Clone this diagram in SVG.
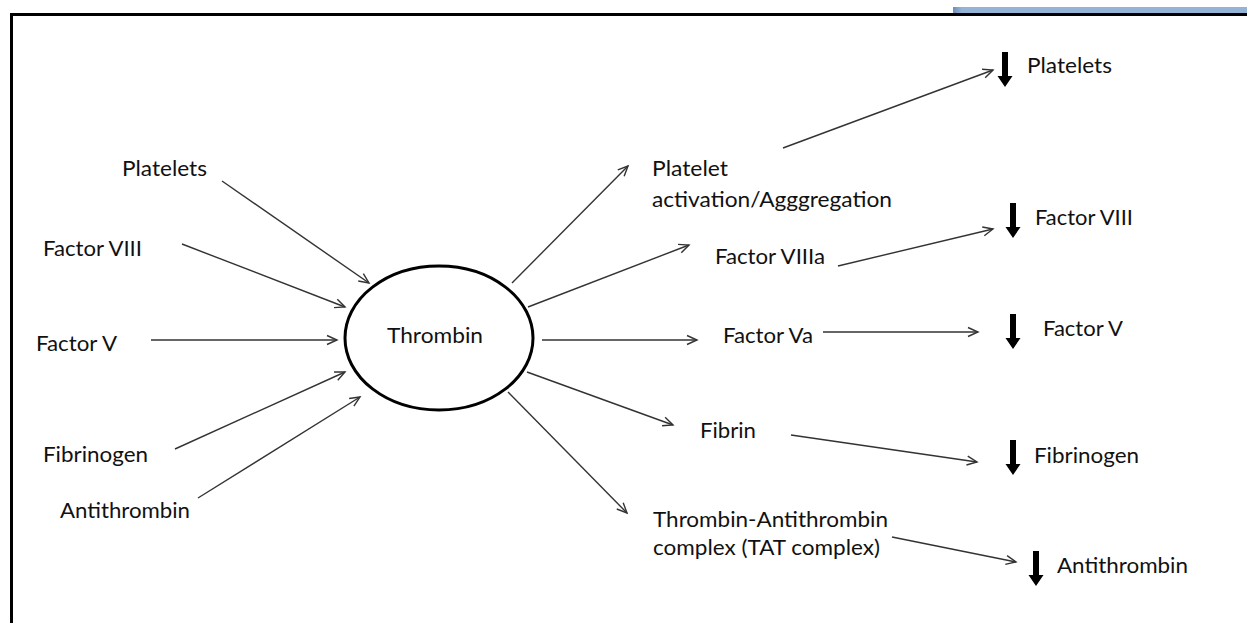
<svg xmlns="http://www.w3.org/2000/svg" width="1247" height="623" viewBox="0 0 1247 623">
<defs>
<linearGradient id="bar" x1="0" y1="0" x2="1" y2="0">
<stop offset="0" stop-color="#6f8fb8"/>
<stop offset="0.03" stop-color="#95b3d7"/>
<stop offset="1" stop-color="#95b3d7"/>
</linearGradient>
<marker id="open" markerUnits="userSpaceOnUse" markerWidth="14" markerHeight="12" refX="11" refY="5" orient="auto" viewBox="0 0 14 10">
<path d="M1,0.5 L11,5 L1,9.5" fill="none" stroke="#333" stroke-width="1.4"/>
</marker>
<path id="down" d="M-3,0 H3 V24 H7.5 L0,35 L-7.5,24 H-3 Z"/>
</defs>
<style>
text{font-family:Lato,"Open Sans","Liberation Sans",sans-serif;font-size:21px;fill:#111}
.c line{stroke:#333;stroke-width:1.4;marker-end:url(#open)}
.d{fill:#000}
</style>
<rect x="0" y="0" width="1247" height="623" fill="#fff"/>
<rect x="953" y="7" width="294" height="6" fill="url(#bar)"/>
<path d="M11.5,623 V14.5 H1247" fill="none" stroke="#000" stroke-width="3"/>

<g id="thrombin">
<ellipse cx="439" cy="338" rx="94" ry="72" fill="none" stroke="#000" stroke-width="3"/>
<text x="387" y="343" textLength="96" lengthAdjust="spacingAndGlyphs">Thrombin</text>
</g>

<g id="in-platelets"><text x="122" y="176" textLength="85" lengthAdjust="spacingAndGlyphs">Platelets</text></g>
<g id="in-factor8"><text x="43" y="256" textLength="99" lengthAdjust="spacingAndGlyphs">Factor VIII</text></g>
<g id="in-factor5"><text x="36" y="351" textLength="81" lengthAdjust="spacingAndGlyphs">Factor V</text></g>
<g id="in-fibrinogen"><text x="43" y="462" textLength="105" lengthAdjust="spacingAndGlyphs">Fibrinogen</text></g>
<g id="in-antithrombin"><text x="60" y="518" textLength="130" lengthAdjust="spacingAndGlyphs">Antithrombin</text></g>

<g id="platelet-activation">
<text x="652" y="176" textLength="76" lengthAdjust="spacingAndGlyphs">Platelet</text>
<text x="652" y="207" textLength="240" lengthAdjust="spacingAndGlyphs">activation/Agggregation</text>
</g>
<g id="factor8a"><text x="715" y="264" textLength="110" lengthAdjust="spacingAndGlyphs">Factor VIIIa</text></g>
<g id="factor5a"><text x="723" y="343" textLength="90" lengthAdjust="spacingAndGlyphs">Factor Va</text></g>
<g id="fibrin"><text x="700" y="438" textLength="56" lengthAdjust="spacingAndGlyphs">Fibrin</text></g>
<g id="tat">
<text x="653" y="527" textLength="235" lengthAdjust="spacingAndGlyphs">Thrombin-Antithrombin</text>
<text x="653" y="555" textLength="227" lengthAdjust="spacingAndGlyphs">complex (TAT complex)</text>
</g>

<g id="out-platelets"><use href="#down" class="d" x="1005" y="52"/><text x="1027" y="73" textLength="85" lengthAdjust="spacingAndGlyphs">Platelets</text></g>
<g id="out-factor8"><use href="#down" class="d" x="1013" y="203"/><text x="1035" y="225" textLength="98" lengthAdjust="spacingAndGlyphs">Factor VIII</text></g>
<g id="out-factor5"><use href="#down" class="d" x="1013" y="314"/><text x="1043" y="336" textLength="80" lengthAdjust="spacingAndGlyphs">Factor V</text></g>
<g id="out-fibrinogen"><use href="#down" class="d" x="1013" y="440"/><text x="1034" y="463" textLength="105" lengthAdjust="spacingAndGlyphs">Fibrinogen</text></g>
<g id="out-antithrombin"><use href="#down" class="d" x="1036" y="551"/><text x="1057" y="573" textLength="131" lengthAdjust="spacingAndGlyphs">Antithrombin</text></g>

<g id="connectors" class="c">
<line x1="222" y1="181" x2="369" y2="283"/>
<line x1="182" y1="244" x2="345" y2="307"/>
<line x1="151" y1="340" x2="337" y2="340"/>
<line x1="175" y1="449" x2="345" y2="372"/>
<line x1="198" y1="498" x2="360" y2="397"/>
<line x1="512" y1="283" x2="628" y2="166"/>
<line x1="528" y1="307" x2="689" y2="245"/>
<line x1="542" y1="340" x2="697" y2="340"/>
<line x1="527" y1="372" x2="673" y2="425"/>
<line x1="508" y1="392" x2="627" y2="513"/>
<line x1="783" y1="148" x2="993" y2="70"/>
<line x1="838" y1="266" x2="993" y2="229"/>
<line x1="823" y1="332" x2="978" y2="332"/>
<line x1="791" y1="435" x2="977" y2="462"/>
<line x1="892" y1="537" x2="1016" y2="562"/>
</g>
</svg>
